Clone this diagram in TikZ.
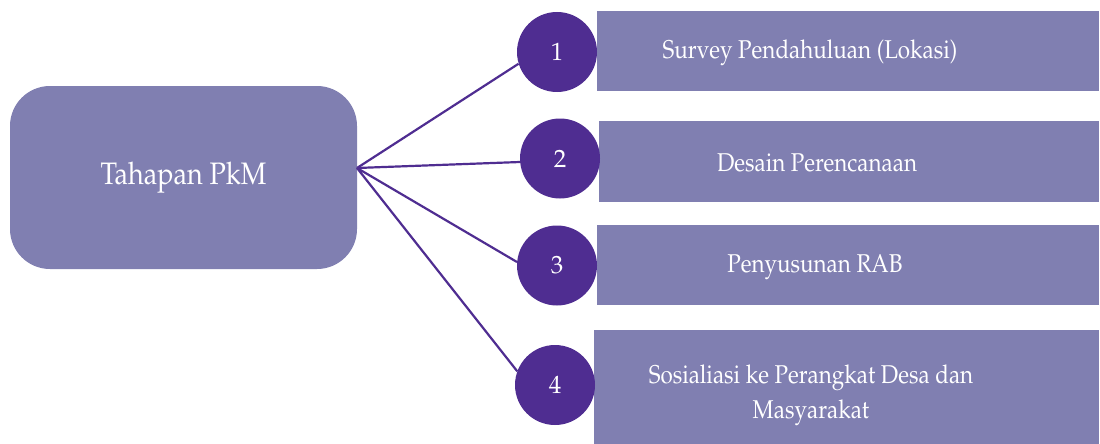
\documentclass[tikz,border=0pt]{standalone}
\usepackage[T1]{fontenc}
\usepackage{mathpazo}
\usepackage{graphicx}
\definecolor{boxfill}{RGB}{128,127,177}
\definecolor{circfill}{RGB}{79,45,145}
\newcommand{\tallbox}[1]{\scalebox{1}[1.15]{#1}}
\tikzset{
  stepbox/.style={fill=boxfill, draw=none, inner sep=0pt, rectangle},
  numcirc/.style={circle, fill=circfill, draw=none, minimum size=80pt, inner sep=0pt, text=white, font=\fontsize{25}{30}\selectfont},
  boxtext/.style={text=white, font=\fontsize{22.4}{31}\selectfont, align=center, inner sep=0pt},
  link/.style={draw=circfill, line width=2.2pt}
}
\begin{document}
\begin{tikzpicture}[x=1pt,y=-1pt]
\useasboundingbox (0,0) rectangle (1100,444);
% root
\node[stepbox, rounded corners=40pt, minimum width=347pt, minimum height=183pt, text=white, font=\fontsize{27}{32}\selectfont] (root) at (183.5,177.5) {\tallbox{Tahapan PkM}};
\coordinate (hub) at (357,168);
% rectangles
\node[stepbox, minimum width=502pt, minimum height=80pt] (r1) at (848,51) {};
\node[stepbox, minimum width=500pt, minimum height=81pt] (r2) at (849,161.5) {};
\node[stepbox, minimum width=502pt, minimum height=80pt] (r3) at (848,265) {};
\node[stepbox, minimum width=505pt, minimum height=114pt] (r4) at (846.5,387) {};
% texts
\node[boxtext] (t1) at (810,53) {\tallbox{Survey Pendahuluan (Lokasi)}};
\node[boxtext] (t2) at (817,163) {\tallbox{Desain Perencanaan}};
\node[boxtext] (t3) at (815,267) {\tallbox{Penyusunan RAB}};
\node[boxtext] (t4) at (811,394) {\tallbox{\begin{tabular}{@{}c@{}}Sosialiasi ke Perangkat Desa dan\\Masyarakat\end{tabular}}};
% circles
\node[numcirc] (c1) at (557,52) {1};
\node[numcirc] (c2) at (560,158.5) {2};
\node[numcirc] (c3) at (557,265.5) {3};
\node[numcirc] (c4) at (555,385) {4};
% connectors
\draw[link] (hub) -- (c1.197);
\draw[link] (hub) -- (c2.185);
\draw[link] (hub) -- (c3.175);
\draw[link] (hub) -- (c4.160);
\end{tikzpicture}
\end{document}
